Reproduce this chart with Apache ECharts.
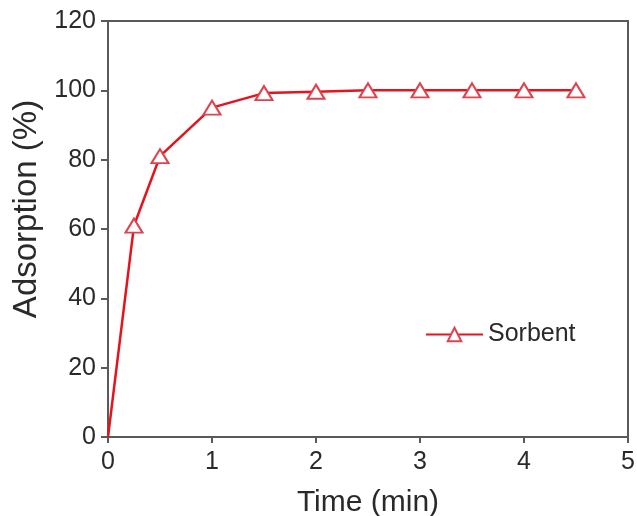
<!DOCTYPE html>
<html>
<head>
<meta charset="utf-8">
<script src="https://cdn.jsdelivr.net/npm/echarts@6/dist/echarts.min.js"></script>
<style>
html,body{margin:0;padding:0;background:#fff;}
#chart{width:637px;height:516px;}
</style>
</head>
<body>
<div id="chart"></div>
<script>
const timeMin = [0, 0.25, 0.5, 1, 1.5, 2, 2.5, 3, 3.5, 4, 4.5];
const adsorption = [0, 61, 81, 95, 99.2, 99.6, 100, 100, 100, 100, 100];
const seriesName = 'Sorbent';
const xTitle = 'Time (min)';
const yTitle = 'Adsorption (%)';

const chart = echarts.init(document.getElementById('chart'), null, {renderer: 'canvas'});
const font = 'Liberation Sans, Arial, sans-serif';
const axisColor = '#5a5a5a';
const option = {
  animation: false,
  backgroundColor: '#fff',
  grid: {
    left: 108, right: 9, top: 21, bottom: 79,
    outerBoundsMode: 'none', containLabel: false,
    show: true, borderColor: axisColor, borderWidth: 2, backgroundColor: 'transparent'
  },
  legend: {
    left: 420, top: 317,
    itemWidth: 57, itemHeight: 17,
    data: [seriesName],
    textStyle: {fontFamily: font, fontSize: 25, color: '#2a2a2a'}
  },
  xAxis: {
    type: 'value', min: 0, max: 5, interval: 1,
    name: xTitle, nameLocation: 'middle', nameGap: 51,
    nameTextStyle: {fontFamily: font, fontSize: 30, color: '#2a2a2a'},
    axisLine: {show: true, lineStyle: {color: axisColor, width: 2}},
    axisTick: {show: true, inside: false, length: 6, lineStyle: {color: axisColor, width: 2}},
    axisLabel: {fontFamily: font, fontSize: 25, color: '#2a2a2a', margin: 13},
    splitLine: {show: false}
  },
  yAxis: {
    type: 'value', min: 0, max: 120, interval: 20,
    name: yTitle, nameLocation: 'middle', nameGap: 58,
    nameTextStyle: {fontFamily: font, fontSize: 33, color: '#2a2a2a', padding: [0, 0, 0, 40]},
    axisLine: {show: true, lineStyle: {color: axisColor, width: 2}},
    axisTick: {show: true, inside: false, length: 7, lineStyle: {color: axisColor, width: 2}},
    axisLabel: {fontFamily: font, fontSize: 25, color: '#2a2a2a', margin: 12},
    splitLine: {show: false}
  },
  series: [{
    name: seriesName,
    type: 'line',
    data: timeMin.map((t, i) => i === 0 ? {value: [t, adsorption[i]], symbol: 'none'} : [t, adsorption[i]]),
    symbol: 'triangle',
    symbolSize: [17, 14],
    showAllSymbol: true,
    lineStyle: {color: '#e8121c', width: 2.5},
    itemStyle: {color: '#ffffff', borderColor: '#dd4450', borderWidth: 2},
    clip: true
  }]
};
chart.setOption(option);
</script>
</body>
</html>
